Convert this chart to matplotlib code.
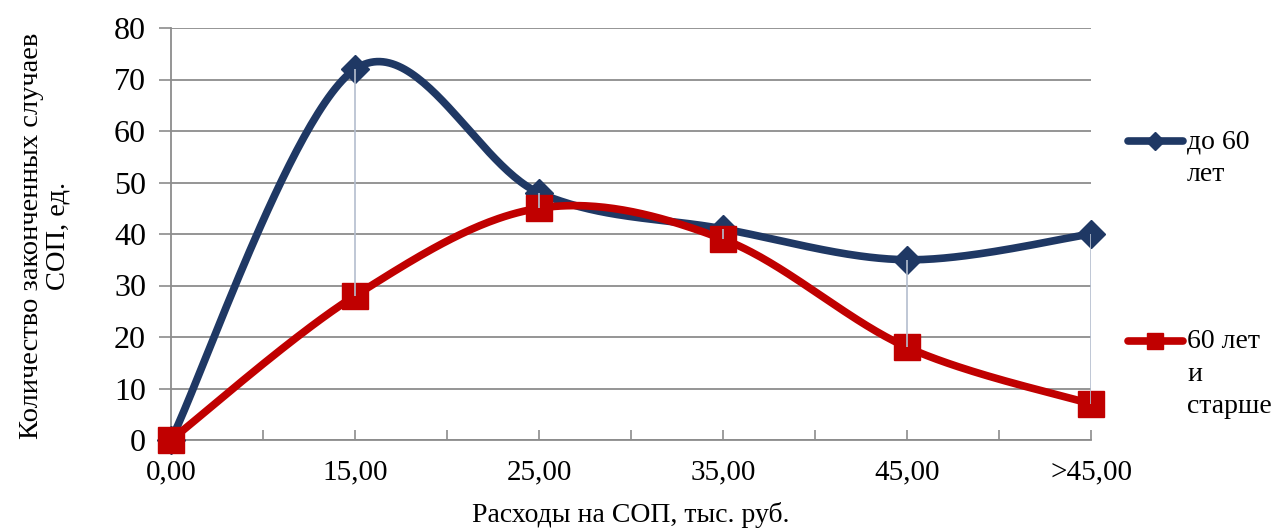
import matplotlib
matplotlib.use("Agg")
import matplotlib.pyplot as plt
from matplotlib.lines import Line2D
import numpy as np

categories = ['0,00', '15,00', '25,00', '35,00', '45,00', '>45,00']
under_60 = [0, 72, 48, 41, 35, 40]
over_60 = [0, 28, 45, 39, 18, 7]
series_names = ['до 60\nлет', '60 лет\nи\nстарше']

BLUE = '#1F3864'
RED = '#C00000'
GRID = '#8C8C8C'


def smooth(xs, ys, n=60):
    """Excel-like smoothed line: Catmull-Rom control points as cubic Bezier."""
    p = np.column_stack([xs, ys]).astype(float)
    k = len(p)
    out = []
    for i in range(k - 1):
        a = p[max(i - 1, 0)]
        b = p[i]
        c = p[i + 1]
        d = p[min(i + 2, k - 1)]
        c1 = b + (c - a) / 6.0
        c2 = c - (d - b) / 6.0
        t = np.linspace(0, 1, n)[:, None]
        seg = ((1 - t) ** 3) * b + 3 * ((1 - t) ** 2) * t * c1 \
            + 3 * (1 - t) * t ** 2 * c2 + t ** 3 * c
        out.append(seg if i == 0 else seg[1:])
    out = np.vstack(out)
    return out[:, 0], out[:, 1]


def main():
    plt.rcParams['font.family'] = ['Liberation Serif', 'DejaVu Serif']
    fig = plt.figure(figsize=(12.77, 5.29), dpi=100)
    ax = fig.add_axes([171 / 1277, 1 - 440 / 529, 920 / 1277, 412 / 529])

    x = np.arange(len(categories))

    ax.set_ylim(0, 80)
    ax.set_xlim(0, len(categories) - 1)
    ax.set_yticks(np.arange(0, 81, 10))
    ax.yaxis.grid(True, color=GRID, linewidth=1.3)
    ax.set_axisbelow(True)

    for vals, col, mk, ms in [(under_60, BLUE, 'D', 14), (over_60, RED, 's', 19)]:
        sx, sy = smooth(x, vals)
        ax.plot(sx, sy, color=col, linewidth=5.5, solid_capstyle='round',
                clip_on=False, zorder=3)
        ax.plot(x, vals, linestyle='none', marker=mk, markersize=ms,
                color=col, markeredgecolor=col, clip_on=False, zorder=4)

    # high-low lines
    lo = np.minimum(under_60, over_60)
    hi = np.maximum(under_60, over_60)
    ax.vlines(x, lo, hi, color='#B4BECE', linewidth=1.2, zorder=5)

    ax.set_xticks(x)
    ax.set_xticklabels(categories, fontsize=21)
    ax.set_xticks(x[:-1] + 0.5, minor=True)
    ax.tick_params(axis='x', which='both', direction='in', length=7,
                   color=GRID, width=1.2, pad=14)
    ax.tick_params(axis='y', direction='out', length=9, color=GRID,
                   width=1.2, labelsize=23, pad=9)

    for s in ['top', 'right']:
        ax.spines[s].set_visible(False)
    for s in ['left', 'bottom']:
        ax.spines[s].set_color(GRID)
        ax.spines[s].set_linewidth(1.3)

    ax.set_xlabel('Расходы на СОП, тыс. руб.', fontsize=20, labelpad=12)
    fig.text(45 / 1277, 1 - 236 / 529,
             'Количество законченных случаев\nСОП, ед.',
             rotation=90, ha='center', va='center', fontsize=20.5,
             multialignment='center', linespacing=1.1)

    # legend on the right
    legend_rows = [(141, BLUE, 'D', 9), (341, RED, 's', 12)]
    for (py, col, mk, ms), name in zip(legend_rows, series_names):
        fy = 1 - py / 529
        fig.add_artist(Line2D([1128 / 1277, 1183 / 1277], [fy, fy],
                              transform=fig.transFigure, color=col,
                              linewidth=5.5, solid_capstyle='round'))
        fig.add_artist(Line2D([1155 / 1277], [fy], transform=fig.transFigure,
                              marker=mk, markersize=ms, color=col,
                              linestyle='none'))
        fig.text(1187 / 1277, fy + 12 / 529, name, ha='left', va='top',
                 fontsize=20, linespacing=1.4)

    fig.savefig('out.png', dpi=100)


if __name__ == "__main__":
    main()
